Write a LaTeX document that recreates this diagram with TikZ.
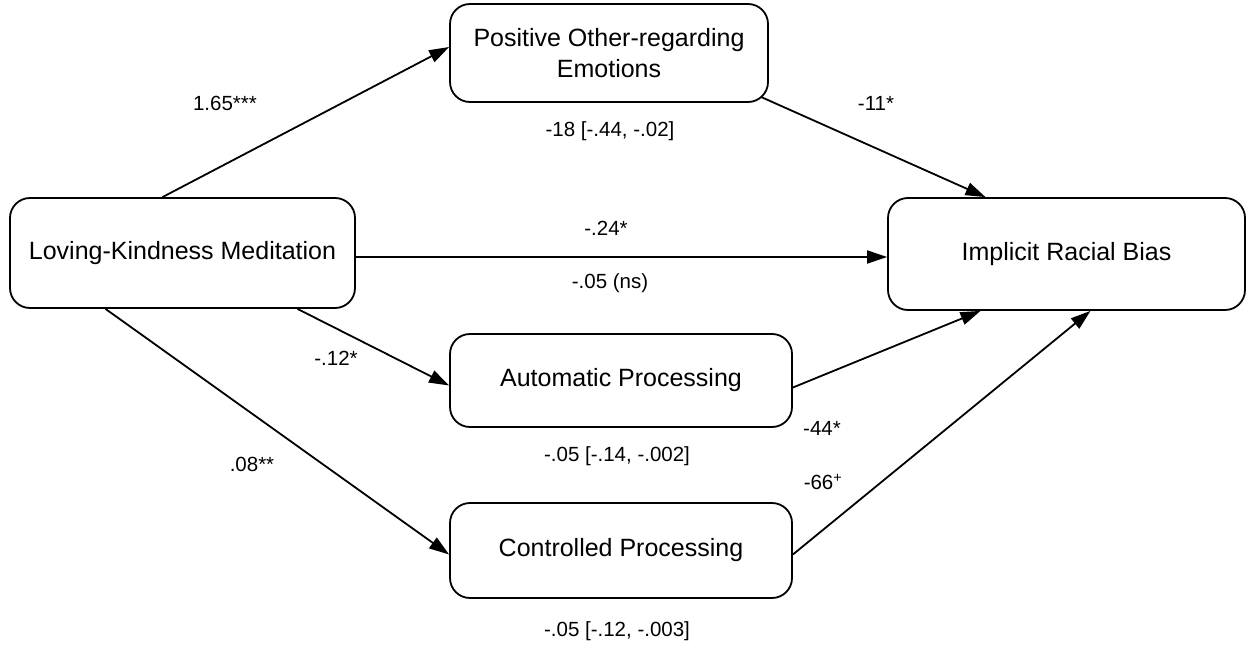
\documentclass[tikz,border=0pt]{standalone}
\usepackage{fontspec}
\setmainfont{Liberation Sans}
\usetikzlibrary{arrows.meta}
\begin{document}
\begin{tikzpicture}[x=1pt,y=-1pt,
  box/.style={draw,line width=1.8pt,rounded corners=20pt,align=center,inner sep=0pt,
    font=\fontsize{25}{31}\selectfont},
  lab/.style={font=\fontsize{20.5}{24}\selectfont,inner sep=0pt},
  arr/.style={line width=1.8pt,-{Triangle[length=20pt,width=13pt]}}]
\useasboundingbox (0,0) rectangle (1249,650);
\node[box,minimum width=345pt,minimum height=110pt] (lkm) at (182.5,253) {Loving-Kindness Meditation};
\node[box,minimum width=318pt,minimum height=98pt] (poe) at (609,53) {Positive Other-regarding\\Emotions};
\node[box,minimum width=342pt,minimum height=93pt] (ap) at (621,380.5) {Automatic Processing};
\node[box,minimum width=342pt,minimum height=95pt] (cp) at (621,550.5) {Controlled Processing};
\node[box,minimum width=357pt,minimum height=112pt] (irb) at (1066.5,254) {Implicit Racial Bias};

\draw[arr] ([xshift=-20pt]lkm.north) -- ([yshift=6pt]poe.west);
\draw[arr] ([xshift=-8pt,yshift=6pt]poe.south east) -- ([xshift=-81pt]irb.north);
\draw[arr] ([yshift=-4pt]lkm.east) -- ([yshift=-3pt]irb.west);
\draw[arr] ([xshift=115pt]lkm.south) -- ([yshift=-5pt]ap.west);
\draw[arr] ([yshift=-7pt]ap.east) -- ([xshift=-86pt]irb.south);
\draw[arr] ([xshift=-77pt]lkm.south) -- ([yshift=-4pt]cp.west);
\draw[arr] ([yshift=-4pt]cp.east) -- ([xshift=24pt]irb.south);

\node[lab] (l1) at (225,103) {1.65***};
\node[lab] (l2) at (610,131) {-18 [-.44, -.02]};
\node[lab] (l3) at (876,103) {-11*};
\node[lab] (l4) at (606,228) {-.24*};
\node[lab] (l5) at (610,283) {-.05 (ns)};
\node[lab] (l6) at (336,358) {-.12*};
\node[lab] (l7) at (617,456) {-.05 [-.14, -.002]};
\node[lab] (l8) at (822,428) {-44*};
\node[lab] (l9) at (252,464) {.08**};
\node[lab] (l10) at (823,482) {-66\textsuperscript{+}};
\node[lab] (l11) at (617,631) {-.05 [-.12, -.003]};
\end{tikzpicture}
\end{document}
